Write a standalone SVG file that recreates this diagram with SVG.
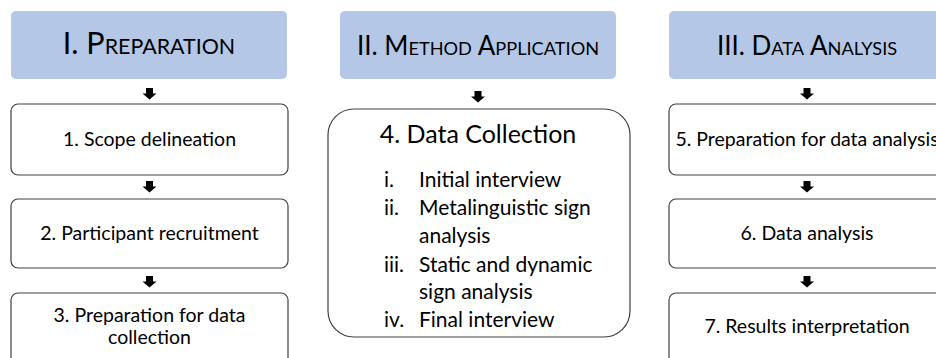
<svg xmlns="http://www.w3.org/2000/svg" width="936" height="358" viewBox="0 0 936 358">
<style>
.hdr{fill:#B4C7E7;}
.box{fill:#FFFFFF;stroke:#404040;stroke-width:1.2;}
text{font-family:"Lato","Liberation Sans",sans-serif;fill:#000000;}
.h1{font-size:30.5px;text-anchor:middle;}
.h2{font-size:26px;text-anchor:middle;}
.t{font-size:19.5px;text-anchor:middle;}
.big{font-size:25px;text-anchor:middle;}
.li{font-size:21px;}
.arr{fill:#000000;}
</style>
<defs>
<path id="a" d="M-3.5,0 H3.5 V5.5 H7 L0,11.5 L-7,5.5 H-3.5 Z"/>
</defs>
<rect width="936" height="358" fill="#FFFFFF"/>
<g id="connectors">
<use href="#a" class="arr" x="149.5" y="88"/>
<use href="#a" class="arr" x="149.5" y="181"/>
<use href="#a" class="arr" x="149.5" y="276"/>
<use href="#a" class="arr" x="478" y="91"/>
<use href="#a" class="arr" x="807" y="88"/>
<use href="#a" class="arr" x="807" y="181"/>
<use href="#a" class="arr" x="807" y="276"/>
</g>
<g id="header1">
<rect class="hdr" x="11" y="11" width="276" height="68" rx="5"/>
<text class="h1" x="149" y="53.5">I. P<tspan font-size="21.4">REPARATION</tspan></text>
</g>
<g id="header2">
<rect class="hdr" x="340" y="11" width="276" height="68" rx="5"/>
<text class="h2" x="478" y="55">II. M<tspan font-size="18.2">ETHOD</tspan> A<tspan font-size="18.2">PPLICATION</tspan></text>
</g>
<g id="header3">
<rect class="hdr" x="669" y="11" width="276" height="68" rx="5"/>
<text class="h2" x="807" y="55">III. D<tspan font-size="18.2">ATA</tspan> A<tspan font-size="18.2">NALYSIS</tspan></text>
</g>
<g id="step1">
<rect class="box" x="11" y="104" width="277" height="71" rx="7"/>
<text class="t" x="149.5" y="146">1. Scope delineation</text>
</g>
<g id="step2">
<rect class="box" x="11" y="199" width="277" height="69" rx="7"/>
<text class="t" x="149.5" y="240">2. Participant recruitment</text>
</g>
<g id="step3">
<rect class="box" x="11" y="293" width="277" height="80" rx="7"/>
<text class="t" x="149.5" y="322">3. Preparation for data</text>
<text class="t" x="149.5" y="344">collection</text>
</g>
<g id="step4">
<rect class="box" x="328" y="109" width="302" height="228" rx="26"/>
<text class="big" x="478" y="143">4. Data Collection</text>
<text class="li" x="384" y="187">i.</text>
<text class="li" x="419" y="187">Initial interview</text>
<text class="li" x="384" y="215">ii.</text>
<text class="li" x="419" y="215">Metalinguistic sign</text>
<text class="li" x="419" y="243">analysis</text>
<text class="li" x="384" y="272">iii.</text>
<text class="li" x="419" y="272">Static and dynamic</text>
<text class="li" x="419" y="299">sign analysis</text>
<text class="li" x="384" y="327">iv.</text>
<text class="li" x="419" y="327">Final interview</text>
</g>
<g id="step5">
<rect class="box" x="669" y="104" width="277" height="71" rx="7"/>
<text class="t" x="807" y="146">5. Preparation for data analysis</text>
</g>
<g id="step6">
<rect class="box" x="669" y="199" width="277" height="69" rx="7"/>
<text class="t" x="807" y="240">6. Data analysis</text>
</g>
<g id="step7">
<rect class="box" x="669" y="293" width="277" height="80" rx="7"/>
<text class="t" x="807" y="333">7. Results interpretation</text>
</g>
</svg>
